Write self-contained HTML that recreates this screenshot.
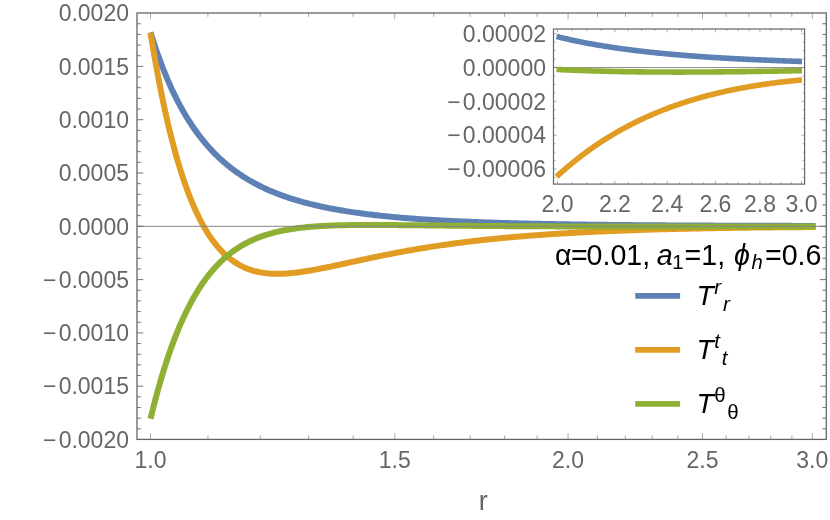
<!DOCTYPE html>
<html><head><meta charset="utf-8"><title>plot</title>
<style>html,body{margin:0;padding:0;background:#fff;}body{width:830px;height:520px;position:relative;overflow:hidden;font-family:"Liberation Sans",sans-serif;}</style>
</head><body>
<svg width="830" height="520" viewBox="0 0 830 520" style="position:absolute;left:0;top:0;will-change:transform;opacity:0.999">
<rect width="830" height="520" fill="#fff"/>
<g fill="none" stroke-width="6.00" stroke-linejoin="round">
<path d="M150.50,32.38 L152.17,37.70 L153.83,42.86 L155.50,47.85 L157.17,52.69 L158.83,57.36 L160.50,61.90 L162.17,66.28 L163.83,70.53 L165.50,74.65 L167.17,78.64 L168.83,82.50 L170.50,86.25 L172.17,89.88 L173.83,93.39 L175.50,96.80 L177.17,100.11 L178.83,103.32 L180.50,106.43 L182.17,109.44 L183.83,112.37 L185.50,115.21 L187.17,117.96 L188.83,120.64 L190.50,123.23 L192.17,125.75 L193.83,128.19 L195.50,130.57 L197.17,132.87 L198.83,135.11 L200.50,137.29 L202.17,139.40 L203.83,141.45 L205.50,143.45 L207.17,145.39 L208.83,147.27 L210.50,149.10 L212.17,150.89 L213.83,152.62 L215.50,154.30 L217.17,155.94 L218.83,157.54 L220.50,159.09 L222.17,160.60 L223.83,162.06 L225.50,163.49 L227.17,164.89 L228.83,166.24 L230.50,167.56 L232.17,168.84 L233.83,170.09 L235.50,171.31 L237.17,172.50 L238.83,173.66 L240.50,174.78 L242.17,175.88 L243.83,176.95 L245.50,177.99 L247.17,179.01 L248.83,180.00 L250.50,180.97 L252.17,181.91 L253.83,182.83 L255.50,183.73 L257.17,184.61 L258.83,185.46 L260.50,186.29 L262.17,187.11 L263.83,187.90 L265.50,188.68 L267.17,189.43 L268.83,190.17 L270.50,190.89 L272.17,191.60 L273.83,192.28 L275.50,192.96 L277.17,193.61 L278.83,194.25 L280.50,194.88 L282.17,195.49 L283.83,196.09 L285.50,196.68 L287.17,197.25 L288.83,197.81 L290.50,198.35 L292.17,198.89 L293.83,199.41 L295.50,199.92 L297.17,200.42 L298.83,200.91 L300.50,201.38 L302.17,201.85 L303.83,202.31 L305.50,202.76 L307.17,203.19 L308.83,203.62 L310.50,204.04 L312.17,204.45 L313.83,204.85 L315.50,205.25 L317.17,205.63 L318.83,206.01 L320.50,206.38 L322.17,206.74 L323.83,207.09 L325.50,207.44 L327.17,207.78 L328.83,208.11 L330.50,208.44 L332.17,208.76 L333.83,209.07 L335.50,209.37 L337.17,209.67 L338.83,209.97 L340.50,210.26 L342.17,210.54 L343.83,210.81 L345.50,211.09 L347.17,211.35 L348.83,211.61 L350.50,211.87 L352.17,212.12 L353.83,212.36 L355.50,212.60 L357.17,212.84 L358.83,213.07 L360.50,213.30 L362.17,213.52 L363.83,213.74 L365.50,213.95 L367.17,214.16 L368.83,214.37 L370.50,214.57 L372.17,214.77 L373.83,214.96 L375.50,215.15 L377.17,215.34 L378.83,215.52 L380.50,215.70 L382.17,215.88 L383.83,216.05 L385.50,216.22 L387.17,216.39 L388.83,216.56 L390.50,216.72 L392.17,216.87 L393.83,217.03 L395.50,217.18 L397.17,217.33 L398.83,217.48 L400.50,217.62 L402.17,217.76 L403.83,217.90 L405.50,218.04 L407.17,218.17 L408.83,218.30 L410.50,218.43 L412.17,218.56 L413.83,218.68 L415.50,218.80 L417.17,218.92 L418.83,219.04 L420.50,219.16 L422.17,219.27 L423.83,219.38 L425.50,219.49 L427.17,219.60 L428.83,219.70 L430.50,219.81 L432.17,219.91 L433.83,220.01 L435.50,220.11 L437.17,220.21 L438.83,220.30 L440.50,220.39 L442.17,220.49 L443.83,220.58 L445.50,220.67 L447.17,220.75 L448.83,220.84 L450.50,220.92 L452.17,221.00 L453.83,221.09 L455.50,221.17 L457.17,221.24 L458.83,221.32 L460.50,221.40 L462.17,221.47 L463.83,221.54 L465.50,221.62 L467.17,221.69 L468.83,221.76 L470.50,221.82 L472.17,221.89 L473.83,221.96 L475.50,222.02 L477.17,222.09 L478.83,222.15 L480.50,222.21 L482.17,222.27 L483.83,222.33 L485.50,222.39 L487.17,222.45 L488.83,222.50 L490.50,222.56 L492.17,222.62 L493.83,222.67 L495.50,222.72 L497.17,222.77 L498.83,222.83 L500.50,222.88 L502.17,222.93 L503.83,222.97 L505.50,223.02 L507.17,223.07 L508.83,223.12 L510.50,223.16 L512.17,223.21 L513.83,223.25 L515.50,223.30 L517.17,223.34 L518.83,223.38 L520.50,223.42 L522.17,223.46 L523.83,223.50 L525.50,223.54 L527.17,223.58 L528.83,223.62 L530.50,223.66 L532.17,223.69 L533.83,223.73 L535.50,223.77 L537.17,223.80 L538.83,223.84 L540.50,223.87 L542.17,223.90 L543.83,223.94 L545.50,223.97 L547.17,224.00 L548.83,224.03 L550.50,224.06 L552.17,224.09 L553.83,224.12 L555.50,224.15 L557.17,224.18 L558.83,224.21 L560.50,224.24 L562.17,224.27 L563.83,224.29 L565.50,224.32 L567.17,224.35 L568.83,224.37 L570.50,224.40 L572.17,224.42 L573.83,224.45 L575.50,224.47 L577.17,224.50 L578.83,224.52 L580.50,224.54 L582.17,224.57 L583.83,224.59 L585.50,224.61 L587.17,224.63 L588.83,224.66 L590.50,224.68 L592.17,224.70 L593.83,224.72 L595.50,224.74 L597.17,224.76 L598.83,224.78 L600.50,224.80 L602.17,224.82 L603.83,224.84 L605.50,224.85 L607.17,224.87 L608.83,224.89 L610.50,224.91 L612.17,224.93 L613.83,224.94 L615.50,224.96 L617.17,224.98 L618.83,224.99 L620.50,225.01 L622.17,225.03 L623.83,225.04 L625.50,225.06 L627.17,225.07 L628.83,225.09 L630.50,225.10 L632.17,225.12 L633.83,225.13 L635.50,225.14 L637.17,225.16 L638.83,225.17 L640.50,225.19 L642.17,225.20 L643.83,225.21 L645.50,225.23 L647.17,225.24 L648.83,225.25 L650.50,225.26 L652.17,225.28 L653.83,225.29 L655.50,225.30 L657.17,225.31 L658.83,225.32 L660.50,225.33 L662.17,225.34 L663.83,225.36 L665.50,225.37 L667.17,225.38 L668.83,225.39 L670.50,225.40 L672.17,225.41 L673.83,225.42 L675.50,225.43 L677.17,225.44 L678.83,225.45 L680.50,225.46 L682.17,225.47 L683.83,225.48 L685.50,225.49 L687.17,225.49 L688.83,225.50 L690.50,225.51 L692.17,225.52 L693.83,225.53 L695.50,225.54 L697.17,225.55 L698.83,225.55 L700.50,225.56 L702.17,225.57 L703.83,225.58 L705.50,225.59 L707.17,225.59 L708.83,225.60 L710.50,225.61 L712.17,225.62 L713.83,225.62 L715.50,225.63 L717.17,225.64 L718.83,225.65 L720.50,225.65 L722.17,225.66 L723.83,225.67 L725.50,225.67 L727.17,225.68 L728.83,225.68 L730.50,225.69 L732.17,225.70 L733.83,225.70 L735.50,225.71 L737.17,225.72 L738.83,225.72 L740.50,225.73 L742.17,225.73 L743.83,225.74 L745.50,225.74 L747.17,225.75 L748.83,225.76 L750.50,225.76 L752.17,225.77 L753.83,225.77 L755.50,225.78 L757.17,225.78 L758.83,225.79 L760.50,225.79 L762.17,225.80 L763.83,225.80 L765.50,225.81 L767.17,225.81 L768.83,225.82 L770.50,225.82 L772.17,225.83 L773.83,225.83 L775.50,225.83 L777.17,225.84 L778.83,225.84 L780.50,225.85 L782.17,225.85 L783.83,225.86 L785.50,225.86 L787.17,225.86 L788.83,225.87 L790.50,225.87 L792.17,225.88 L793.83,225.88 L795.50,225.88 L797.17,225.89 L798.83,225.89 L800.50,225.89 L802.17,225.90 L803.83,225.90 L805.50,225.91 L807.17,225.91 L808.83,225.91 L810.50,225.92 L812.17,225.92 L813.83,225.92 L815.50,225.93" stroke="#5e81b5"/>
<path d="M150.50,32.68 L152.17,42.91 L153.83,52.78 L155.50,62.32 L157.17,71.52 L158.83,80.39 L160.50,88.95 L162.17,97.20 L163.83,105.16 L165.50,112.82 L167.17,120.21 L168.83,127.32 L170.50,134.17 L172.17,140.77 L173.83,147.11 L175.50,153.22 L177.17,159.09 L178.83,164.74 L180.50,170.17 L182.17,175.38 L183.83,180.39 L185.50,185.20 L187.17,189.82 L188.83,194.25 L190.50,198.49 L192.17,202.57 L193.83,206.47 L195.50,210.21 L197.17,213.79 L198.83,217.22 L200.50,220.50 L202.17,223.63 L203.83,226.63 L205.50,229.49 L207.17,232.23 L208.83,234.83 L210.50,237.32 L212.17,239.69 L213.83,241.95 L215.50,244.09 L217.17,246.14 L218.83,248.08 L220.50,249.92 L222.17,251.67 L223.83,253.32 L225.50,254.89 L227.17,256.38 L228.83,257.78 L230.50,259.10 L232.17,260.35 L233.83,261.53 L235.50,262.63 L237.17,263.67 L238.83,264.64 L240.50,265.55 L242.17,266.40 L243.83,267.19 L245.50,267.93 L247.17,268.61 L248.83,269.24 L250.50,269.82 L252.17,270.36 L253.83,270.84 L255.50,271.29 L257.17,271.69 L258.83,272.05 L260.50,272.38 L262.17,272.66 L263.83,272.91 L265.50,273.13 L267.17,273.32 L268.83,273.47 L270.50,273.59 L272.17,273.69 L273.83,273.76 L275.50,273.80 L277.17,273.82 L278.83,273.81 L280.50,273.79 L282.17,273.74 L283.83,273.67 L285.50,273.58 L287.17,273.47 L288.83,273.35 L290.50,273.20 L292.17,273.05 L293.83,272.87 L295.50,272.69 L297.17,272.49 L298.83,272.27 L300.50,272.05 L302.17,271.81 L303.83,271.57 L305.50,271.31 L307.17,271.04 L308.83,270.77 L310.50,270.48 L312.17,270.19 L313.83,269.89 L315.50,269.59 L317.17,269.28 L318.83,268.96 L320.50,268.64 L322.17,268.31 L323.83,267.98 L325.50,267.64 L327.17,267.30 L328.83,266.96 L330.50,266.61 L332.17,266.26 L333.83,265.91 L335.50,265.55 L337.17,265.20 L338.83,264.84 L340.50,264.48 L342.17,264.12 L343.83,263.76 L345.50,263.39 L347.17,263.03 L348.83,262.67 L350.50,262.31 L352.17,261.94 L353.83,261.58 L355.50,261.22 L357.17,260.86 L358.83,260.50 L360.50,260.14 L362.17,259.78 L363.83,259.42 L365.50,259.06 L367.17,258.71 L368.83,258.35 L370.50,258.00 L372.17,257.65 L373.83,257.30 L375.50,256.96 L377.17,256.61 L378.83,256.27 L380.50,255.93 L382.17,255.59 L383.83,255.26 L385.50,254.92 L387.17,254.59 L388.83,254.26 L390.50,253.94 L392.17,253.61 L393.83,253.29 L395.50,252.97 L397.17,252.66 L398.83,252.34 L400.50,252.03 L402.17,251.72 L403.83,251.42 L405.50,251.11 L407.17,250.81 L408.83,250.52 L410.50,250.22 L412.17,249.93 L413.83,249.64 L415.50,249.35 L417.17,249.07 L418.83,248.79 L420.50,248.51 L422.17,248.24 L423.83,247.96 L425.50,247.69 L427.17,247.43 L428.83,247.16 L430.50,246.90 L432.17,246.64 L433.83,246.39 L435.50,246.13 L437.17,245.88 L438.83,245.64 L440.50,245.39 L442.17,245.15 L443.83,244.91 L445.50,244.67 L447.17,244.44 L448.83,244.21 L450.50,243.98 L452.17,243.75 L453.83,243.53 L455.50,243.31 L457.17,243.09 L458.83,242.87 L460.50,242.66 L462.17,242.44 L463.83,242.24 L465.50,242.03 L467.17,241.82 L468.83,241.62 L470.50,241.42 L472.17,241.23 L473.83,241.03 L475.50,240.84 L477.17,240.65 L478.83,240.46 L480.50,240.27 L482.17,240.09 L483.83,239.91 L485.50,239.73 L487.17,239.55 L488.83,239.38 L490.50,239.21 L492.17,239.03 L493.83,238.87 L495.50,238.70 L497.17,238.53 L498.83,238.37 L500.50,238.21 L502.17,238.05 L503.83,237.90 L505.50,237.74 L507.17,237.59 L508.83,237.44 L510.50,237.29 L512.17,237.14 L513.83,236.99 L515.50,236.85 L517.17,236.71 L518.83,236.57 L520.50,236.43 L522.17,236.29 L523.83,236.16 L525.50,236.02 L527.17,235.89 L528.83,235.76 L530.50,235.63 L532.17,235.51 L533.83,235.38 L535.50,235.26 L537.17,235.13 L538.83,235.01 L540.50,234.89 L542.17,234.78 L543.83,234.66 L545.50,234.54 L547.17,234.43 L548.83,234.32 L550.50,234.21 L552.17,234.10 L553.83,233.99 L555.50,233.88 L557.17,233.78 L558.83,233.68 L560.50,233.57 L562.17,233.47 L563.83,233.37 L565.50,233.27 L567.17,233.18 L568.83,233.08 L570.50,232.98 L572.17,232.89 L573.83,232.80 L575.50,232.71 L577.17,232.62 L578.83,232.53 L580.50,232.44 L582.17,232.35 L583.83,232.27 L585.50,232.18 L587.17,232.10 L588.83,232.02 L590.50,231.93 L592.17,231.85 L593.83,231.77 L595.50,231.70 L597.17,231.62 L598.83,231.54 L600.50,231.47 L602.17,231.39 L603.83,231.32 L605.50,231.25 L607.17,231.17 L608.83,231.10 L610.50,231.03 L612.17,230.97 L613.83,230.90 L615.50,230.83 L617.17,230.77 L618.83,230.70 L620.50,230.64 L622.17,230.57 L623.83,230.51 L625.50,230.45 L627.17,230.39 L628.83,230.33 L630.50,230.27 L632.17,230.21 L633.83,230.15 L635.50,230.09 L637.17,230.04 L638.83,229.98 L640.50,229.93 L642.17,229.87 L643.83,229.82 L645.50,229.77 L647.17,229.72 L648.83,229.66 L650.50,229.61 L652.17,229.56 L653.83,229.52 L655.50,229.47 L657.17,229.42 L658.83,229.37 L660.50,229.33 L662.17,229.28 L663.83,229.24 L665.50,229.19 L667.17,229.15 L668.83,229.10 L670.50,229.06 L672.17,229.02 L673.83,228.98 L675.50,228.94 L677.17,228.90 L678.83,228.86 L680.50,228.82 L682.17,228.78 L683.83,228.74 L685.50,228.70 L687.17,228.67 L688.83,228.63 L690.50,228.60 L692.17,228.56 L693.83,228.53 L695.50,228.49 L697.17,228.46 L698.83,228.42 L700.50,228.39 L702.17,228.36 L703.83,228.33 L705.50,228.30 L707.17,228.27 L708.83,228.24 L710.50,228.21 L712.17,228.18 L713.83,228.15 L715.50,228.12 L717.17,228.09 L718.83,228.06 L720.50,228.04 L722.17,228.01 L723.83,227.98 L725.50,227.96 L727.17,227.93 L728.83,227.91 L730.50,227.88 L732.17,227.86 L733.83,227.84 L735.50,227.81 L737.17,227.79 L738.83,227.77 L740.50,227.74 L742.17,227.72 L743.83,227.70 L745.50,227.68 L747.17,227.66 L748.83,227.64 L750.50,227.62 L752.17,227.60 L753.83,227.58 L755.50,227.56 L757.17,227.54 L758.83,227.52 L760.50,227.50 L762.17,227.49 L763.83,227.47 L765.50,227.45 L767.17,227.43 L768.83,227.42 L770.50,227.40 L772.17,227.39 L773.83,227.37 L775.50,227.36 L777.17,227.34 L778.83,227.33 L780.50,227.31 L782.17,227.30 L783.83,227.28 L785.50,227.27 L787.17,227.26 L788.83,227.24 L790.50,227.23 L792.17,227.22 L793.83,227.20 L795.50,227.19 L797.17,227.18 L798.83,227.17 L800.50,227.16 L802.17,227.15 L803.83,227.14 L805.50,227.12 L807.17,227.11 L808.83,227.10 L810.50,227.09 L812.17,227.08 L813.83,227.07 L815.50,227.06" stroke="#e19c24"/>
<path d="M150.50,418.78 L152.17,411.96 L153.83,405.36 L155.50,398.96 L157.17,392.76 L158.83,386.76 L160.50,380.94 L162.17,375.31 L163.83,369.86 L165.50,364.59 L167.17,359.48 L168.83,354.54 L170.50,349.76 L172.17,345.13 L173.83,340.66 L175.50,336.33 L177.17,332.15 L178.83,328.10 L180.50,324.19 L182.17,320.42 L183.83,316.76 L185.50,313.24 L187.17,309.83 L188.83,306.54 L190.50,303.36 L192.17,300.29 L193.83,297.32 L195.50,294.46 L197.17,291.70 L198.83,289.03 L200.50,286.46 L202.17,283.98 L203.83,281.59 L205.50,279.28 L207.17,277.06 L208.83,274.91 L210.50,272.84 L212.17,270.85 L213.83,268.93 L215.50,267.08 L217.17,265.30 L218.83,263.58 L220.50,261.93 L222.17,260.34 L223.83,258.81 L225.50,257.33 L227.17,255.92 L228.83,254.55 L230.50,253.24 L232.17,251.98 L233.83,250.77 L235.50,249.60 L237.17,248.48 L238.83,247.40 L240.50,246.37 L242.17,245.37 L243.83,244.42 L245.50,243.50 L247.17,242.62 L248.83,241.78 L250.50,240.97 L252.17,240.20 L253.83,239.45 L255.50,238.74 L257.17,238.05 L258.83,237.40 L260.50,236.77 L262.17,236.17 L263.83,235.59 L265.50,235.04 L267.17,234.51 L268.83,234.01 L270.50,233.53 L272.17,233.07 L273.83,232.63 L275.50,232.20 L277.17,231.80 L278.83,231.42 L280.50,231.05 L282.17,230.70 L283.83,230.37 L285.50,230.05 L287.17,229.75 L288.83,229.46 L290.50,229.19 L292.17,228.93 L293.83,228.68 L295.50,228.44 L297.17,228.22 L298.83,228.00 L300.50,227.80 L302.17,227.61 L303.83,227.43 L305.50,227.26 L307.17,227.09 L308.83,226.94 L310.50,226.80 L312.17,226.66 L313.83,226.53 L315.50,226.41 L317.17,226.29 L318.83,226.18 L320.50,226.08 L322.17,225.99 L323.83,225.90 L325.50,225.81 L327.17,225.73 L328.83,225.66 L330.50,225.59 L332.17,225.53 L333.83,225.47 L335.50,225.42 L337.17,225.37 L338.83,225.32 L340.50,225.28 L342.17,225.24 L343.83,225.20 L345.50,225.17 L347.17,225.14 L348.83,225.11 L350.50,225.09 L352.17,225.07 L353.83,225.05 L355.50,225.03 L357.17,225.02 L358.83,225.01 L360.50,225.00 L362.17,224.99 L363.83,224.98 L365.50,224.98 L367.17,224.98 L368.83,224.98 L370.50,224.98 L372.17,224.98 L373.83,224.98 L375.50,224.99 L377.17,224.99 L378.83,225.00 L380.50,225.01 L382.17,225.01 L383.83,225.02 L385.50,225.03 L387.17,225.04 L388.83,225.06 L390.50,225.07 L392.17,225.08 L393.83,225.09 L395.50,225.11 L397.17,225.12 L398.83,225.14 L400.50,225.15 L402.17,225.17 L403.83,225.18 L405.50,225.20 L407.17,225.22 L408.83,225.23 L410.50,225.25 L412.17,225.27 L413.83,225.29 L415.50,225.30 L417.17,225.32 L418.83,225.34 L420.50,225.36 L422.17,225.37 L423.83,225.39 L425.50,225.41 L427.17,225.43 L428.83,225.45 L430.50,225.46 L432.17,225.48 L433.83,225.50 L435.50,225.52 L437.17,225.54 L438.83,225.55 L440.50,225.57 L442.17,225.59 L443.83,225.60 L445.50,225.62 L447.17,225.64 L448.83,225.66 L450.50,225.67 L452.17,225.69 L453.83,225.71 L455.50,225.72 L457.17,225.74 L458.83,225.75 L460.50,225.77 L462.17,225.79 L463.83,225.80 L465.50,225.82 L467.17,225.83 L468.83,225.85 L470.50,225.86 L472.17,225.88 L473.83,225.89 L475.50,225.90 L477.17,225.92 L478.83,225.93 L480.50,225.95 L482.17,225.96 L483.83,225.97 L485.50,225.99 L487.17,226.00 L488.83,226.01 L490.50,226.02 L492.17,226.04 L493.83,226.05 L495.50,226.06 L497.17,226.07 L498.83,226.08 L500.50,226.09 L502.17,226.11 L503.83,226.12 L505.50,226.13 L507.17,226.14 L508.83,226.15 L510.50,226.16 L512.17,226.17 L513.83,226.18 L515.50,226.19 L517.17,226.20 L518.83,226.21 L520.50,226.22 L522.17,226.23 L523.83,226.24 L525.50,226.25 L527.17,226.25 L528.83,226.26 L530.50,226.27 L532.17,226.28 L533.83,226.29 L535.50,226.30 L537.17,226.30 L538.83,226.31 L540.50,226.32 L542.17,226.33 L543.83,226.33 L545.50,226.34 L547.17,226.35 L548.83,226.35 L550.50,226.36 L552.17,226.37 L553.83,226.37 L555.50,226.38 L557.17,226.39 L558.83,226.39 L560.50,226.40 L562.17,226.40 L563.83,226.41 L565.50,226.42 L567.17,226.42 L568.83,226.43 L570.50,226.43 L572.17,226.44 L573.83,226.44 L575.50,226.45 L577.17,226.45 L578.83,226.46 L580.50,226.46 L582.17,226.47 L583.83,226.47 L585.50,226.47 L587.17,226.48 L588.83,226.48 L590.50,226.49 L592.17,226.49 L593.83,226.49 L595.50,226.50 L597.17,226.50 L598.83,226.51 L600.50,226.51 L602.17,226.51 L603.83,226.52 L605.50,226.52 L607.17,226.52 L608.83,226.52 L610.50,226.53 L612.17,226.53 L613.83,226.53 L615.50,226.54 L617.17,226.54 L618.83,226.54 L620.50,226.54 L622.17,226.55 L623.83,226.55 L625.50,226.55 L627.17,226.55 L628.83,226.55 L630.50,226.56 L632.17,226.56 L633.83,226.56 L635.50,226.56 L637.17,226.56 L638.83,226.57 L640.50,226.57 L642.17,226.57 L643.83,226.57 L645.50,226.57 L647.17,226.57 L648.83,226.57 L650.50,226.58 L652.17,226.58 L653.83,226.58 L655.50,226.58 L657.17,226.58 L658.83,226.58 L660.50,226.58 L662.17,226.58 L663.83,226.58 L665.50,226.58 L667.17,226.58 L668.83,226.59 L670.50,226.59 L672.17,226.59 L673.83,226.59 L675.50,226.59 L677.17,226.59 L678.83,226.59 L680.50,226.59 L682.17,226.59 L683.83,226.59 L685.50,226.59 L687.17,226.59 L688.83,226.59 L690.50,226.59 L692.17,226.59 L693.83,226.59 L695.50,226.59 L697.17,226.59 L698.83,226.59 L700.50,226.59 L702.17,226.59 L703.83,226.59 L705.50,226.59 L707.17,226.59 L708.83,226.59 L710.50,226.58 L712.17,226.58 L713.83,226.58 L715.50,226.58 L717.17,226.58 L718.83,226.58 L720.50,226.58 L722.17,226.58 L723.83,226.58 L725.50,226.58 L727.17,226.58 L728.83,226.58 L730.50,226.58 L732.17,226.57 L733.83,226.57 L735.50,226.57 L737.17,226.57 L738.83,226.57 L740.50,226.57 L742.17,226.57 L743.83,226.57 L745.50,226.57 L747.17,226.56 L748.83,226.56 L750.50,226.56 L752.17,226.56 L753.83,226.56 L755.50,226.56 L757.17,226.56 L758.83,226.55 L760.50,226.55 L762.17,226.55 L763.83,226.55 L765.50,226.55 L767.17,226.55 L768.83,226.55 L770.50,226.54 L772.17,226.54 L773.83,226.54 L775.50,226.54 L777.17,226.54 L778.83,226.54 L780.50,226.53 L782.17,226.53 L783.83,226.53 L785.50,226.53 L787.17,226.53 L788.83,226.52 L790.50,226.52 L792.17,226.52 L793.83,226.52 L795.50,226.52 L797.17,226.51 L798.83,226.51 L800.50,226.51 L802.17,226.51 L803.83,226.51 L805.50,226.51 L807.17,226.50 L808.83,226.50 L810.50,226.50 L812.17,226.50 L813.83,226.50 L815.50,226.49" stroke="#8fb032"/>
</g>
<line x1="137.0" y1="226.3" x2="826.3" y2="226.3" stroke="#858585" stroke-width="1"/>
<path d="M137.00,428.84L140.90,428.84M826.30,428.84L822.40,428.84M137.00,418.18L140.90,418.18M826.30,418.18L822.40,418.18M137.00,407.52L140.90,407.52M826.30,407.52L822.40,407.52M137.00,396.86L140.90,396.86M826.30,396.86L822.40,396.86M137.00,386.20L143.30,386.20M826.30,386.20L820.00,386.20M137.00,375.54L140.90,375.54M826.30,375.54L822.40,375.54M137.00,364.88L140.90,364.88M826.30,364.88L822.40,364.88M137.00,354.22L140.90,354.22M826.30,354.22L822.40,354.22M137.00,343.56L140.90,343.56M826.30,343.56L822.40,343.56M137.00,332.90L143.30,332.90M826.30,332.90L820.00,332.90M137.00,322.24L140.90,322.24M826.30,322.24L822.40,322.24M137.00,311.58L140.90,311.58M826.30,311.58L822.40,311.58M137.00,300.92L140.90,300.92M826.30,300.92L822.40,300.92M137.00,290.26L140.90,290.26M826.30,290.26L822.40,290.26M137.00,279.60L143.30,279.60M826.30,279.60L820.00,279.60M137.00,268.94L140.90,268.94M826.30,268.94L822.40,268.94M137.00,258.28L140.90,258.28M826.30,258.28L822.40,258.28M137.00,247.62L140.90,247.62M826.30,247.62L822.40,247.62M137.00,236.96L140.90,236.96M826.30,236.96L822.40,236.96M137.00,226.30L143.30,226.30M826.30,226.30L820.00,226.30M137.00,215.64L140.90,215.64M826.30,215.64L822.40,215.64M137.00,204.98L140.90,204.98M826.30,204.98L822.40,204.98M137.00,194.32L140.90,194.32M826.30,194.32L822.40,194.32M137.00,183.66L140.90,183.66M826.30,183.66L822.40,183.66M137.00,173.00L143.30,173.00M826.30,173.00L820.00,173.00M137.00,162.34L140.90,162.34M826.30,162.34L822.40,162.34M137.00,151.68L140.90,151.68M826.30,151.68L822.40,151.68M137.00,141.02L140.90,141.02M826.30,141.02L822.40,141.02M137.00,130.36L140.90,130.36M826.30,130.36L822.40,130.36M137.00,119.70L143.30,119.70M826.30,119.70L820.00,119.70M137.00,109.04L140.90,109.04M826.30,109.04L822.40,109.04M137.00,98.38L140.90,98.38M826.30,98.38L822.40,98.38M137.00,87.72L140.90,87.72M826.30,87.72L822.40,87.72M137.00,77.06L140.90,77.06M826.30,77.06L822.40,77.06M137.00,66.40L143.30,66.40M826.30,66.40L820.00,66.40M137.00,55.74L140.90,55.74M826.30,55.74L822.40,55.74M137.00,45.08L140.90,45.08M826.30,45.08L822.40,45.08M137.00,34.42L140.90,34.42M826.30,34.42L822.40,34.42M137.00,23.76L140.90,23.76M826.30,23.76L822.40,23.76" stroke="#666666" stroke-width="0.9" fill="none"/>
<path d="M150.50,439.40L150.50,433.10M150.50,13.00L150.50,19.30M207.91,439.40L207.91,435.50M207.91,13.00L207.91,16.90M260.33,439.40L260.33,435.50M260.33,13.00L260.33,16.90M308.55,439.40L308.55,435.50M308.55,13.00L308.55,16.90M353.19,439.40L353.19,435.50M353.19,13.00L353.19,16.90M394.75,439.40L394.75,433.10M394.75,13.00L394.75,19.30M433.63,439.40L433.63,435.50M433.63,13.00L433.63,16.90M470.15,439.40L470.15,435.50M470.15,13.00L470.15,16.90M504.58,439.40L504.58,435.50M504.58,13.00L504.58,16.90M537.15,439.40L537.15,435.50M537.15,13.00L537.15,16.90M568.05,439.40L568.05,433.10M568.05,13.00L568.05,19.30M597.44,439.40L597.44,435.50M597.44,13.00L597.44,16.90M625.46,439.40L625.46,435.50M625.46,13.00L625.46,16.90M652.24,439.40L652.24,435.50M652.24,13.00L652.24,16.90M677.88,439.40L677.88,435.50M677.88,13.00L677.88,16.90M702.47,439.40L702.47,433.10M702.47,13.00L702.47,19.30M726.10,439.40L726.10,435.50M726.10,13.00L726.10,16.90M748.83,439.40L748.83,435.50M748.83,13.00L748.83,16.90M770.74,439.40L770.74,435.50M770.74,13.00L770.74,16.90M791.88,439.40L791.88,435.50M791.88,13.00L791.88,16.90M812.30,439.40L812.30,433.10M812.30,13.00L812.30,19.30" stroke="#7a7a7a" stroke-width="0.65" fill="none"/>
<rect x="137.0" y="13.0" width="689.3" height="426.4" fill="none" stroke="#666666" stroke-width="1.3"/>
<rect x="553.5" y="29.0" width="251.1" height="155.1" fill="#fff"/>
<line x1="553.5" y1="67.5" x2="804.6" y2="67.5" stroke="#858585" stroke-width="0.9"/>
<g fill="none" stroke-width="5.60" stroke-linejoin="round">
<path d="M556.50,36.46 L557.73,36.77 L558.97,37.07 L560.20,37.37 L561.43,37.67 L562.67,37.96 L563.90,38.25 L565.14,38.54 L566.37,38.82 L567.60,39.10 L568.84,39.38 L570.07,39.65 L571.30,39.92 L572.54,40.19 L573.77,40.45 L575.01,40.72 L576.24,40.97 L577.47,41.23 L578.71,41.48 L579.94,41.73 L581.17,41.98 L582.41,42.22 L583.64,42.46 L584.87,42.70 L586.11,42.94 L587.34,43.17 L588.58,43.40 L589.81,43.63 L591.04,43.86 L592.28,44.08 L593.51,44.30 L594.74,44.52 L595.98,44.73 L597.21,44.95 L598.44,45.16 L599.68,45.37 L600.91,45.57 L602.15,45.77 L603.38,45.98 L604.61,46.18 L605.85,46.37 L607.08,46.57 L608.31,46.76 L609.55,46.95 L610.78,47.14 L612.02,47.33 L613.25,47.51 L614.48,47.69 L615.72,47.87 L616.95,48.05 L618.18,48.23 L619.42,48.40 L620.65,48.57 L621.88,48.75 L623.12,48.91 L624.35,49.08 L625.59,49.25 L626.82,49.41 L628.05,49.57 L629.29,49.73 L630.52,49.89 L631.75,50.05 L632.99,50.20 L634.22,50.35 L635.45,50.50 L636.69,50.65 L637.92,50.80 L639.16,50.95 L640.39,51.09 L641.62,51.24 L642.86,51.38 L644.09,51.52 L645.32,51.66 L646.56,51.80 L647.79,51.93 L649.03,52.07 L650.26,52.20 L651.49,52.33 L652.73,52.46 L653.96,52.59 L655.19,52.72 L656.43,52.84 L657.66,52.97 L658.89,53.09 L660.13,53.21 L661.36,53.33 L662.60,53.45 L663.83,53.57 L665.06,53.69 L666.30,53.81 L667.53,53.92 L668.76,54.03 L670.00,54.15 L671.23,54.26 L672.46,54.37 L673.70,54.48 L674.93,54.58 L676.17,54.69 L677.40,54.80 L678.63,54.90 L679.87,55.00 L681.10,55.11 L682.33,55.21 L683.57,55.31 L684.80,55.41 L686.04,55.50 L687.27,55.60 L688.50,55.70 L689.74,55.79 L690.97,55.89 L692.20,55.98 L693.44,56.07 L694.67,56.16 L695.90,56.25 L697.14,56.34 L698.37,56.43 L699.61,56.52 L700.84,56.61 L702.07,56.69 L703.31,56.78 L704.54,56.86 L705.77,56.94 L707.01,57.03 L708.24,57.11 L709.47,57.19 L710.71,57.27 L711.94,57.35 L713.18,57.43 L714.41,57.50 L715.64,57.58 L716.88,57.66 L718.11,57.73 L719.34,57.81 L720.58,57.88 L721.81,57.95 L723.05,58.03 L724.28,58.10 L725.51,58.17 L726.75,58.24 L727.98,58.31 L729.21,58.38 L730.45,58.45 L731.68,58.51 L732.91,58.58 L734.15,58.65 L735.38,58.71 L736.62,58.78 L737.85,58.84 L739.08,58.91 L740.32,58.97 L741.55,59.03 L742.78,59.09 L744.02,59.16 L745.25,59.22 L746.48,59.28 L747.72,59.34 L748.95,59.40 L750.19,59.45 L751.42,59.51 L752.65,59.57 L753.89,59.63 L755.12,59.68 L756.35,59.74 L757.59,59.79 L758.82,59.85 L760.06,59.90 L761.29,59.96 L762.52,60.01 L763.76,60.06 L764.99,60.12 L766.22,60.17 L767.46,60.22 L768.69,60.27 L769.92,60.32 L771.16,60.37 L772.39,60.42 L773.63,60.47 L774.86,60.52 L776.09,60.56 L777.33,60.61 L778.56,60.66 L779.79,60.71 L781.03,60.75 L782.26,60.80 L783.49,60.84 L784.73,60.89 L785.96,60.93 L787.20,60.98 L788.43,61.02 L789.66,61.07 L790.90,61.11 L792.13,61.15 L793.36,61.19 L794.60,61.24 L795.83,61.28 L797.07,61.32 L798.30,61.36 L799.53,61.40 L800.77,61.44 L802.00,61.48" stroke="#5e81b5"/>
<path d="M556.50,176.77 L557.73,175.64 L558.97,174.51 L560.20,173.40 L561.43,172.29 L562.67,171.20 L563.90,170.12 L565.14,169.05 L566.37,167.98 L567.60,166.93 L568.84,165.89 L570.07,164.86 L571.30,163.83 L572.54,162.82 L573.77,161.82 L575.01,160.82 L576.24,159.84 L577.47,158.86 L578.71,157.90 L579.94,156.94 L581.17,155.99 L582.41,155.05 L583.64,154.12 L584.87,153.20 L586.11,152.29 L587.34,151.39 L588.58,150.49 L589.81,149.61 L591.04,148.73 L592.28,147.86 L593.51,147.00 L594.74,146.15 L595.98,145.31 L597.21,144.47 L598.44,143.64 L599.68,142.82 L600.91,142.01 L602.15,141.21 L603.38,140.41 L604.61,139.62 L605.85,138.84 L607.08,138.07 L608.31,137.31 L609.55,136.55 L610.78,135.80 L612.02,135.06 L613.25,134.32 L614.48,133.59 L615.72,132.87 L616.95,132.16 L618.18,131.45 L619.42,130.75 L620.65,130.06 L621.88,129.37 L623.12,128.69 L624.35,128.02 L625.59,127.35 L626.82,126.70 L628.05,126.04 L629.29,125.40 L630.52,124.76 L631.75,124.13 L632.99,123.50 L634.22,122.88 L635.45,122.27 L636.69,121.66 L637.92,121.06 L639.16,120.46 L640.39,119.87 L641.62,119.29 L642.86,118.71 L644.09,118.14 L645.32,117.57 L646.56,117.01 L647.79,116.46 L649.03,115.91 L650.26,115.37 L651.49,114.83 L652.73,114.30 L653.96,113.78 L655.19,113.26 L656.43,112.74 L657.66,112.23 L658.89,111.73 L660.13,111.23 L661.36,110.74 L662.60,110.25 L663.83,109.76 L665.06,109.29 L666.30,108.81 L667.53,108.35 L668.76,107.88 L670.00,107.43 L671.23,106.97 L672.46,106.53 L673.70,106.08 L674.93,105.64 L676.17,105.21 L677.40,104.78 L678.63,104.36 L679.87,103.94 L681.10,103.52 L682.33,103.11 L683.57,102.71 L684.80,102.31 L686.04,101.91 L687.27,101.52 L688.50,101.13 L689.74,100.74 L690.97,100.36 L692.20,99.99 L693.44,99.62 L694.67,99.25 L695.90,98.89 L697.14,98.53 L698.37,98.18 L699.61,97.82 L700.84,97.48 L702.07,97.14 L703.31,96.80 L704.54,96.46 L705.77,96.13 L707.01,95.81 L708.24,95.48 L709.47,95.16 L710.71,94.85 L711.94,94.54 L713.18,94.23 L714.41,93.92 L715.64,93.62 L716.88,93.32 L718.11,93.03 L719.34,92.74 L720.58,92.45 L721.81,92.17 L723.05,91.89 L724.28,91.61 L725.51,91.34 L726.75,91.07 L727.98,90.80 L729.21,90.54 L730.45,90.28 L731.68,90.03 L732.91,89.77 L734.15,89.52 L735.38,89.27 L736.62,89.03 L737.85,88.79 L739.08,88.55 L740.32,88.32 L741.55,88.08 L742.78,87.86 L744.02,87.63 L745.25,87.41 L746.48,87.19 L747.72,86.97 L748.95,86.75 L750.19,86.54 L751.42,86.33 L752.65,86.13 L753.89,85.93 L755.12,85.72 L756.35,85.53 L757.59,85.33 L758.82,85.14 L760.06,84.95 L761.29,84.76 L762.52,84.58 L763.76,84.39 L764.99,84.21 L766.22,84.04 L767.46,83.86 L768.69,83.69 L769.92,83.52 L771.16,83.35 L772.39,83.19 L773.63,83.03 L774.86,82.86 L776.09,82.71 L777.33,82.55 L778.56,82.40 L779.79,82.25 L781.03,82.10 L782.26,81.95 L783.49,81.81 L784.73,81.66 L785.96,81.52 L787.20,81.38 L788.43,81.25 L789.66,81.11 L790.90,80.98 L792.13,80.85 L793.36,80.72 L794.60,80.60 L795.83,80.47 L797.07,80.35 L798.30,80.23 L799.53,80.11 L800.77,80.00 L802.00,79.88" stroke="#e19c24"/>
<path d="M556.50,69.42 L557.73,69.48 L558.97,69.55 L560.20,69.61 L561.43,69.67 L562.67,69.73 L563.90,69.79 L565.14,69.84 L566.37,69.90 L567.60,69.96 L568.84,70.01 L570.07,70.06 L571.30,70.12 L572.54,70.17 L573.77,70.22 L575.01,70.27 L576.24,70.32 L577.47,70.37 L578.71,70.42 L579.94,70.46 L581.17,70.51 L582.41,70.56 L583.64,70.60 L584.87,70.64 L586.11,70.69 L587.34,70.73 L588.58,70.77 L589.81,70.81 L591.04,70.85 L592.28,70.89 L593.51,70.93 L594.74,70.96 L595.98,71.00 L597.21,71.04 L598.44,71.07 L599.68,71.11 L600.91,71.14 L602.15,71.17 L603.38,71.21 L604.61,71.24 L605.85,71.27 L607.08,71.30 L608.31,71.33 L609.55,71.36 L610.78,71.39 L612.02,71.41 L613.25,71.44 L614.48,71.47 L615.72,71.49 L616.95,71.52 L618.18,71.54 L619.42,71.57 L620.65,71.59 L621.88,71.61 L623.12,71.63 L624.35,71.65 L625.59,71.68 L626.82,71.70 L628.05,71.72 L629.29,71.73 L630.52,71.75 L631.75,71.77 L632.99,71.79 L634.22,71.80 L635.45,71.82 L636.69,71.84 L637.92,71.85 L639.16,71.87 L640.39,71.88 L641.62,71.89 L642.86,71.91 L644.09,71.92 L645.32,71.93 L646.56,71.94 L647.79,71.95 L649.03,71.96 L650.26,71.97 L651.49,71.98 L652.73,71.99 L653.96,72.00 L655.19,72.01 L656.43,72.02 L657.66,72.03 L658.89,72.03 L660.13,72.04 L661.36,72.04 L662.60,72.05 L663.83,72.05 L665.06,72.06 L666.30,72.06 L667.53,72.07 L668.76,72.07 L670.00,72.07 L671.23,72.07 L672.46,72.08 L673.70,72.08 L674.93,72.08 L676.17,72.08 L677.40,72.08 L678.63,72.08 L679.87,72.08 L681.10,72.08 L682.33,72.08 L683.57,72.08 L684.80,72.07 L686.04,72.07 L687.27,72.07 L688.50,72.06 L689.74,72.06 L690.97,72.06 L692.20,72.05 L693.44,72.05 L694.67,72.04 L695.90,72.04 L697.14,72.03 L698.37,72.03 L699.61,72.02 L700.84,72.01 L702.07,72.01 L703.31,72.00 L704.54,71.99 L705.77,71.98 L707.01,71.98 L708.24,71.97 L709.47,71.96 L710.71,71.95 L711.94,71.94 L713.18,71.93 L714.41,71.92 L715.64,71.91 L716.88,71.90 L718.11,71.89 L719.34,71.88 L720.58,71.86 L721.81,71.85 L723.05,71.84 L724.28,71.83 L725.51,71.82 L726.75,71.80 L727.98,71.79 L729.21,71.78 L730.45,71.76 L731.68,71.75 L732.91,71.73 L734.15,71.72 L735.38,71.70 L736.62,71.69 L737.85,71.67 L739.08,71.66 L740.32,71.64 L741.55,71.63 L742.78,71.61 L744.02,71.59 L745.25,71.58 L746.48,71.56 L747.72,71.54 L748.95,71.53 L750.19,71.51 L751.42,71.49 L752.65,71.47 L753.89,71.46 L755.12,71.44 L756.35,71.42 L757.59,71.40 L758.82,71.38 L760.06,71.36 L761.29,71.34 L762.52,71.32 L763.76,71.30 L764.99,71.28 L766.22,71.26 L767.46,71.24 L768.69,71.22 L769.92,71.20 L771.16,71.18 L772.39,71.16 L773.63,71.14 L774.86,71.12 L776.09,71.10 L777.33,71.08 L778.56,71.05 L779.79,71.03 L781.03,71.01 L782.26,70.99 L783.49,70.97 L784.73,70.94 L785.96,70.92 L787.20,70.90 L788.43,70.88 L789.66,70.85 L790.90,70.83 L792.13,70.81 L793.36,70.78 L794.60,70.76 L795.83,70.74 L797.07,70.71 L798.30,70.69 L799.53,70.66 L800.77,70.64 L802.00,70.62" stroke="#8fb032"/>
</g>
<path d="M553.50,177.51L555.50,177.51M804.60,177.51L802.60,177.51M553.50,169.05L556.70,169.05M804.60,169.05L801.40,169.05M553.50,160.59L555.50,160.59M804.60,160.59L802.60,160.59M553.50,152.12L555.50,152.12M804.60,152.12L802.60,152.12M553.50,143.66L555.50,143.66M804.60,143.66L802.60,143.66M553.50,135.20L556.70,135.20M804.60,135.20L801.40,135.20M553.50,126.74L555.50,126.74M804.60,126.74L802.60,126.74M553.50,118.28L555.50,118.28M804.60,118.28L802.60,118.28M553.50,109.81L555.50,109.81M804.60,109.81L802.60,109.81M553.50,101.35L556.70,101.35M804.60,101.35L801.40,101.35M553.50,92.89L555.50,92.89M804.60,92.89L802.60,92.89M553.50,84.42L555.50,84.42M804.60,84.42L802.60,84.42M553.50,75.96L555.50,75.96M804.60,75.96L802.60,75.96M553.50,67.50L556.70,67.50M804.60,67.50L801.40,67.50M553.50,59.04L555.50,59.04M804.60,59.04L802.60,59.04M553.50,50.58L555.50,50.58M804.60,50.58L802.60,50.58M553.50,42.11L555.50,42.11M804.60,42.11L802.60,42.11M553.50,33.65L556.70,33.65M804.60,33.65L801.40,33.65M557.50,184.10L557.50,180.90M557.50,29.00L557.50,32.20M572.36,184.10L572.36,182.10M572.36,29.00L572.36,31.00M586.86,184.10L586.86,182.10M586.86,29.00L586.86,31.00M601.02,184.10L601.02,182.10M601.02,29.00L601.02,31.00M614.86,184.10L614.86,180.90M614.86,29.00L614.86,32.20M628.38,184.10L628.38,182.10M628.38,29.00L628.38,31.00M641.61,184.10L641.61,182.10M641.61,29.00L641.61,31.00M654.55,184.10L654.55,182.10M654.55,29.00L654.55,31.00M667.22,184.10L667.22,180.90M667.22,29.00L667.22,32.20M679.63,184.10L679.63,182.10M679.63,29.00L679.63,31.00M691.78,184.10L691.78,182.10M691.78,29.00L691.78,31.00M703.70,184.10L703.70,182.10M703.70,29.00L703.70,31.00M715.39,184.10L715.39,180.90M715.39,29.00L715.39,32.20M726.85,184.10L726.85,182.10M726.85,29.00L726.85,31.00M738.10,184.10L738.10,182.10M738.10,29.00L738.10,31.00M749.14,184.10L749.14,182.10M749.14,29.00L749.14,31.00M759.98,184.10L759.98,180.90M759.98,29.00L759.98,32.20M770.63,184.10L770.63,182.10M770.63,29.00L770.63,31.00M781.10,184.10L781.10,182.10M781.10,29.00L781.10,31.00M791.39,184.10L791.39,182.10M791.39,29.00L791.39,31.00M801.50,184.10L801.50,180.90M801.50,29.00L801.50,32.20" stroke="#777" stroke-width="0.6" fill="none"/>
<rect x="553.5" y="29.0" width="251.1" height="155.1" fill="none" stroke="#666666" stroke-width="1.2"/>
<g font-family="Liberation Sans, sans-serif" font-size="23.0" fill="#666666">
<text x="129" y="447.7" text-anchor="end">−<tspan dx="2.2">0.0020</tspan></text>
<text x="129" y="394.4" text-anchor="end">−<tspan dx="2.2">0.0015</tspan></text>
<text x="129" y="341.1" text-anchor="end">−<tspan dx="2.2">0.0010</tspan></text>
<text x="129" y="287.8" text-anchor="end">−<tspan dx="2.2">0.0005</tspan></text>
<text x="129" y="234.5" text-anchor="end">0.0000</text>
<text x="129" y="181.2" text-anchor="end">0.0005</text>
<text x="129" y="127.9" text-anchor="end">0.0010</text>
<text x="129" y="74.6" text-anchor="end">0.0015</text>
<text x="129" y="21.3" text-anchor="end">0.0020</text>
<text x="150.5" y="468" text-anchor="middle">1.0</text>
<text x="394.8" y="468" text-anchor="middle">1.5</text>
<text x="568.0" y="468" text-anchor="middle">2.0</text>
<text x="702.5" y="468" text-anchor="middle">2.5</text>
<text x="812.3" y="468" text-anchor="middle">3.0</text>
<text x="546" y="177.2" text-anchor="end">−<tspan dx="2.2">0.00006</tspan></text>
<text x="546" y="143.4" text-anchor="end">−<tspan dx="2.2">0.00004</tspan></text>
<text x="546" y="109.5" text-anchor="end">−<tspan dx="2.2">0.00002</tspan></text>
<text x="546" y="75.7" text-anchor="end">0.00000</text>
<text x="546" y="41.8" text-anchor="end">0.00002</text>
<text x="557.5" y="212" text-anchor="middle">2.0</text>
<text x="614.9" y="212" text-anchor="middle">2.2</text>
<text x="667.2" y="212" text-anchor="middle">2.4</text>
<text x="715.4" y="212" text-anchor="middle">2.6</text>
<text x="760.0" y="212" text-anchor="middle">2.8</text>
<text x="801.5" y="212" text-anchor="middle">3.0</text>
<text x="483.2" y="510.3" text-anchor="middle" font-size="27">r</text>
</g>
<g font-family="Liberation Sans, sans-serif" fill="#000">
<text x="554.90" y="265.00" font-size="28.60">α</text>
<text x="570.90" y="265.00" font-size="28.60">=</text>
<text x="586.60" y="265.00" font-size="28.60">0.01,</text>
<text x="656.80" y="265.00" font-size="28.60" font-style="italic">a</text>
<text x="672.20" y="268.80" font-size="20.30">1</text>
<text x="684.60" y="265.00" font-size="28.60">=1,</text>
<text x="734.00" y="265.00" font-size="28.60" font-style="italic">ϕ</text>
<text x="751.50" y="268.80" font-size="20.30" font-style="italic">h</text>
<text x="765.00" y="265.00" font-size="28.60">=0.6</text>
<line x1="635.2" y1="295.9" x2="680.1" y2="295.9" stroke="#5e81b5" stroke-width="5.8"/>
<text x="696.60" y="305.30" font-size="28.20" font-style="italic">T</text>
<text x="714.20" y="294.20" font-size="20.50" font-style="italic">r</text>
<text x="723.00" y="310.70" font-size="20.50" font-style="italic">r</text>
<line x1="635.2" y1="349.9" x2="680.1" y2="349.9" stroke="#e19c24" stroke-width="5.8"/>
<text x="696.60" y="359.30" font-size="28.20" font-style="italic">T</text>
<text x="714.20" y="348.20" font-size="20.50" font-style="italic">t</text>
<text x="721.80" y="364.70" font-size="20.50" font-style="italic">t</text>
<line x1="635.2" y1="403.9" x2="680.1" y2="403.9" stroke="#8fb032" stroke-width="5.8"/>
<text x="696.60" y="413.30" font-size="28.20" font-style="italic">T</text>
<text x="714.20" y="402.20" font-size="20.50">θ</text>
<text x="727.30" y="418.70" font-size="20.50">θ</text>
</g>
</svg>
</body></html>
